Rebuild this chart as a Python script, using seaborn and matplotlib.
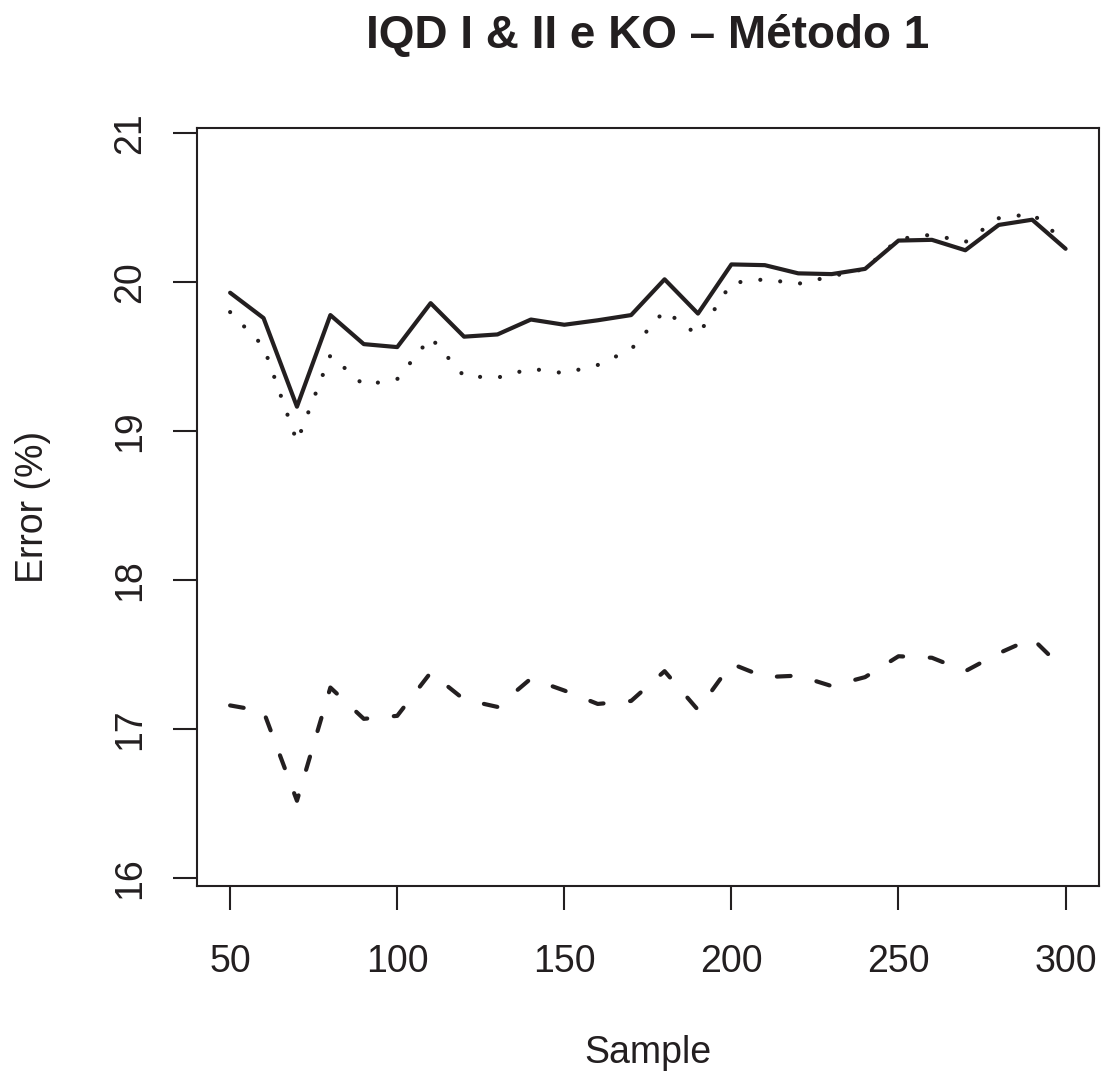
import numpy as np
import pandas as pd
import matplotlib
matplotlib.use("Agg")
import matplotlib.pyplot as plt
import seaborn as sns

# ---- data ----
sample = [50, 60, 70, 80, 90, 100, 110, 120, 130, 140, 150, 160, 170,
          180, 190, 200, 210, 220, 230, 240, 250, 260, 270, 280, 290, 300]
err_solid = [19.93, 19.76, 19.165, 19.78, 19.585, 19.565, 19.86, 19.635, 19.65,
             19.75, 19.715, 19.745, 19.78, 20.02, 19.79, 20.12, 20.115, 20.06,
             20.055, 20.09, 20.28, 20.285, 20.215, 20.385, 20.42, 20.225]
err_dotted = [19.80, 19.57, 18.93, 19.51, 19.31, 19.35, 19.63, 19.37, 19.36,
              19.42, 19.39, 19.445, 19.55, 19.81, 19.645, 19.995, 20.02, 19.99,
              20.04, 20.09, 20.29, 20.32, 20.27, 20.43, 20.46, 20.27]
err_dashed = [17.16, 17.12, 16.52, 17.28, 17.07, 17.09, 17.38, 17.20, 17.15,
              17.34, 17.26, 17.17, 17.19, 17.39, 17.13, 17.44, 17.35, 17.36,
              17.29, 17.35, 17.49, 17.48, 17.39, 17.51, 17.61, 17.39]
x_ticks = [50, 100, 150, 200, 250, 300]
y_ticks = [16, 17, 18, 19, 20, 21]
title = "IQD I & II e KO \u2013 M\u00e9todo 1"

sns.set_style("ticks")
plt.rcParams["font.family"] = ["Liberation Sans", "DejaVu Sans"]

W, H = 1103, 1077
fig = plt.figure(figsize=(W / 100, H / 100), dpi=100)
left, right, top, bottom = 196.7, 1099.0, 127.7, 885.7
ax = fig.add_axes([left / W, 1 - bottom / H, (right - left) / W, (bottom - top) / H])

ink = "#231F20"
lw = 3.0
df = pd.DataFrame({"Sample": sample, "solid": err_solid,
                   "dotted": err_dotted, "dashed": err_dashed})

sns.lineplot(data=df, x="Sample", y="dotted", ax=ax, color=ink, lw=lw,
             linestyle=(0, (0.01, 4.8)), dash_capstyle="round")
sns.lineplot(data=df, x="Sample", y="dashed", ax=ax, color=ink, lw=lw,
             linestyle=(0, (3.3, 6.4)), dash_capstyle="round")
sns.lineplot(data=df, x="Sample", y="solid", ax=ax, color=ink, lw=lw,
             solid_joinstyle="round", solid_capstyle="round")

ax.set_xlim(40, 310)
ax.set_ylim(15.95, 21.0376)
ax.set_xticks(x_ticks)
ax.set_yticks(y_ticks)
ax.set_xticklabels([str(v) for v in x_ticks])
ax.set_yticklabels([str(v) for v in y_ticks])

for s in ax.spines.values():
    s.set_visible(True)
    s.set_linewidth(1.5)
    s.set_color(ink)

ax.tick_params(axis="both", direction="out", length=17.3, width=1.5,
               color=ink, labelsize=27, labelcolor=ink)
ax.tick_params(axis="x", pad=24.5)
ax.tick_params(axis="y", pad=17.8, labelrotation=90)
for t in ax.get_yticklabels():
    t.set_va("center")
    t.set_ha("right")
    t.set_rotation_mode("default")

ax.set_xlabel("Sample", fontsize=27, color=ink)
ax.set_ylabel("Error (%)", fontsize=27, color=ink)
ax.xaxis.set_label_coords(0.5, -(1035 - bottom) / (bottom - top))
ax.yaxis.set_label_coords(-(left - 51.4) / (right - left), 0.5)

fig.text((left + right) / 2 / W, 1 - 48 / H, title, ha="center", va="baseline",
         fontsize=33, fontweight="bold", color=ink)

fig.savefig("out.png", dpi=100, facecolor="white")
